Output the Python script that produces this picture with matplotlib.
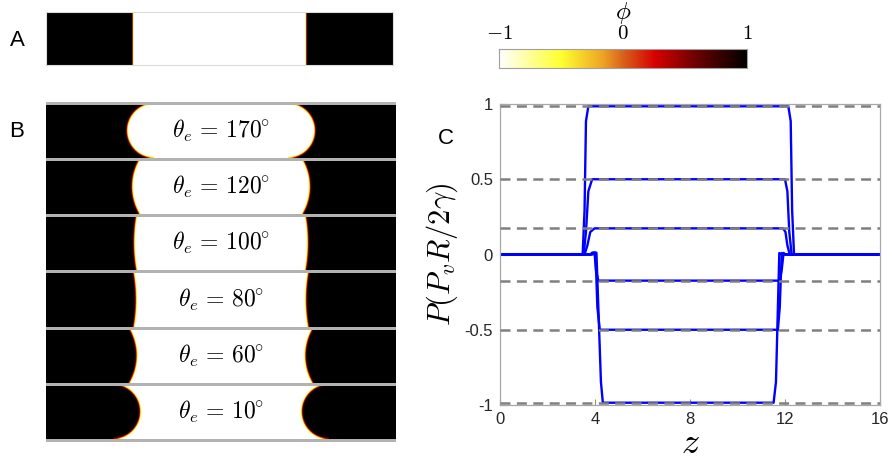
import numpy as np
import matplotlib
matplotlib.use("Agg")
import matplotlib.pyplot as plt
from matplotlib.colors import LinearSegmentedColormap

plt.rcParams["mathtext.fontset"] = "cm"
plt.rcParams["font.family"] = ["Liberation Sans", "DejaVu Sans"]
plt.rcParams["lines.scale_dashes"] = False

# ---- data -------------------------------------------------------------
theta_e = [170, 120, 100, 80, 60, 10]              # equilibrium contact angles (deg)
bridge_half = [4.30, 4.07, 3.98, 3.89, 3.86, 3.70]  # bridge half-length at mid-height (z units)
channel_len = 16.0
slab_front = [4.0, 12.0]                            # flat initial interfaces (panel A)

# pressure profiles: knot positions along z and value relative to plateau (-cos theta)
prof_z = [
    [0, 3.48, 3.56, 3.62, 3.72, 12.14, 12.24, 12.30, 12.38, 16],
    [0, 3.52, 3.62, 3.72, 3.88, 12.00, 12.10, 12.18, 12.28, 16],
    [0, 3.56, 3.68, 3.80, 3.98, 11.92, 12.02, 12.10, 12.20, 16],
    [0, 3.80, 3.88, 3.98, 4.04, 4.14, 11.78, 11.86, 11.94, 12.02, 16],
    [0, 3.84, 3.92, 4.02, 4.10, 4.20, 11.70, 11.78, 11.86, 11.96, 16],
    [0, 3.90, 3.98, 4.06, 4.25, 4.33, 11.52, 11.62, 11.76, 11.86, 16],
]
prof_frac = [
    [0, 0, 0.30, 0.90, 1, 1, 0.90, 0.30, 0, 0],
    [0, 0, 0.30, 0.84, 1, 1, 0.84, 0.30, 0, 0],
    [0, 0, 0.35, 0.86, 1, 1, 0.86, 0.35, 0, 0],
    [0, 0, -0.07, -0.07, 0.60, 1, 1, 0.60, -0.06, 0, 0],
    [0, 0, -0.024, -0.024, 0.70, 1, 1, 0.70, -0.02, 0, 0],
    [0, 0, -0.012, -0.012, 0.86, 1, 1, 0.86, -0.01, 0, 0],
]
xticks_c = [0, 4, 8, 12, 16]
yticks_c = [1, 0.5, 0, -0.5, -1]
ytick_labels_c = ["1", "0.5", "0", "-0.5", "-1"]

W, H = 893, 461
fig = plt.figure(figsize=(W / 100, H / 100), dpi=100)


def px_axes(x0, y0, x1, y1):
    return fig.add_axes([x0 / W, 1 - y1 / H, (x1 - x0) / W, (y1 - y0) / H])


# white -> yellow -> orange -> red -> black phase-field colormap
cmap = LinearSegmentedColormap.from_list("phase", [
    (0.00, "#ffffff"), (0.25, "#ffff30"), (0.42, "#eda325"), (0.50, "#d9621a"),
    (0.63, "#d60000"), (0.80, "#6a0000"), (1.00, "#000000")])

# ---- panel A: flat slab --------------------------------------------------
axA = px_axes(46, 12, 393, 65)
zA = np.linspace(0, channel_len, 1400)
phiA = np.tanh((np.abs(zA - 8.0) - (slab_front[1] - slab_front[0]) / 2) / 0.025)
axA.imshow(np.tile(phiA, (20, 1)), cmap=cmap, vmin=-1, vmax=1, aspect="auto",
           extent=[0, channel_len, 0, 1], interpolation="bilinear")
axA.set_xticks([]); axA.set_yticks([])
for s in axA.spines.values():
    s.set_color("#dcdcdc"); s.set_linewidth(0.8)
fig.text(17 / W, 1 - 41 / H, "A", fontsize=16, ha="center", va="center")

# ---- colorbar ----------------------------------------------------------
axCB = px_axes(499, 49, 747, 68)
axCB.imshow(np.linspace(-1, 1, 512)[None, :], cmap=cmap, vmin=-1, vmax=1,
            aspect="auto", extent=[-1, 1, 0, 1])
axCB.xaxis.tick_top()
axCB.set_xticks([-1, 0, 1])
axCB.set_xticklabels([r"$-1$", r"$0$", r"$1$"], fontsize=15)
axCB.set_yticks([])
axCB.tick_params(axis="x", direction="in", length=2, color="#808080", pad=4)
for s in axCB.spines.values():
    s.set_color("#a0a0a0"); s.set_linewidth(0.8)
fig.text(623 / W, 1 - 13 / H, r"$\phi$", fontsize=18, ha="center", va="center")

# ---- panel B: liquid bridges -------------------------------------------
ppu = 350 / channel_len          # pixels per z unit
pitch = 56.17 / ppu
sep_px = 3.0
half_h = (56.17 - sep_px) / 2 / ppu
pad = 2.0 / ppu
axB = px_axes(46, 101, 396, 442)
axB.set_xlim(0, channel_len)
axB.set_ylim(-pad, 6 * pitch + pad)
axB.axis("off")

nz, ny = 900, 150
zz = np.linspace(0, channel_len, nz)
yy = np.linspace(-pitch / 2, pitch / 2, ny)
Z, Y = np.meshgrid(zz, yy)
U = np.abs(Z - channel_len / 2)
Yc = np.clip(Y, -half_h, half_h)
eps = 0.045

for i, (th, a_c) in enumerate(zip(theta_e, bridge_half)):
    t = np.deg2rad(th)
    r = half_h / abs(np.cos(t))
    if th > 90:
        # meniscus bulges into the outer phase
        c0 = a_c - r
        d = np.sqrt((U - c0) ** 2 + Yc ** 2)
        sd = np.where(U >= c0, d - r, -r)
    else:
        # meniscus curves back into the bridge
        c0 = a_c + r
        d = np.sqrt((U - c0) ** 2 + Yc ** 2)
        sd = np.where(U >= c0, r, r - d)
    phi = np.tanh(sd / eps)
    yc = (5 - i) * pitch + pitch / 2
    axB.imshow(phi, cmap=cmap, vmin=-1, vmax=1, aspect="auto", origin="lower",
               extent=[0, channel_len, yc - pitch / 2, yc + pitch / 2],
               interpolation="bilinear", zorder=1)
    axB.text(channel_len / 2, yc, r"$\theta_e\,=\,%d^{\!\!\circ}$" % th, fontsize=17,
             ha="center", va="center", zorder=3)

for k in range(7):
    axB.axhline(k * pitch, color="#b2b2b2", lw=sep_px * 0.72, zorder=2)
fig.text(17 / W, 1 - 131 / H, "B", fontsize=16, ha="center", va="center")

# ---- panel C: pressure profiles -----------------------------------------
axC = px_axes(500, 104, 880, 405)
levels = [-np.cos(np.deg2rad(th)) for th in theta_e]
for zs, fr, lev in zip(prof_z, prof_frac, levels):
    axC.plot(zs, np.array(fr) * lev, color="#0000ff", lw=1.7, zorder=2)
for lev in levels:
    axC.plot([0, channel_len], [lev, lev], color="#808080", lw=1.8,
             linestyle=(0, (7.2, 4.6)), zorder=3)
axC.set_xlim(0, channel_len)
axC.set_ylim(-1, 1)
axC.set_xticks(xticks_c)
axC.set_xticklabels([str(v) for v in xticks_c])
axC.set_yticks(yticks_c)
axC.set_yticklabels(ytick_labels_c)
axC.tick_params(direction="in", length=4, width=0.8, color="#909090",
                labelsize=12, labelcolor="#262626", pad=5)
for s in axC.spines.values():
    s.set_color("#a8a8a8"); s.set_linewidth(0.9)
axC.text(-0.152, 0.5, r"$P(P_vR/2\gamma)$", transform=axC.transAxes,
         rotation=90, fontsize=22, ha="center", va="center")
axC.text(0.5, -0.128, r"$z$", transform=axC.transAxes, fontsize=26,
         ha="center", va="center")
fig.text(446 / W, 1 - 139 / H, "C", fontsize=16, ha="center", va="center")

fig.savefig("out.png", dpi=100)
